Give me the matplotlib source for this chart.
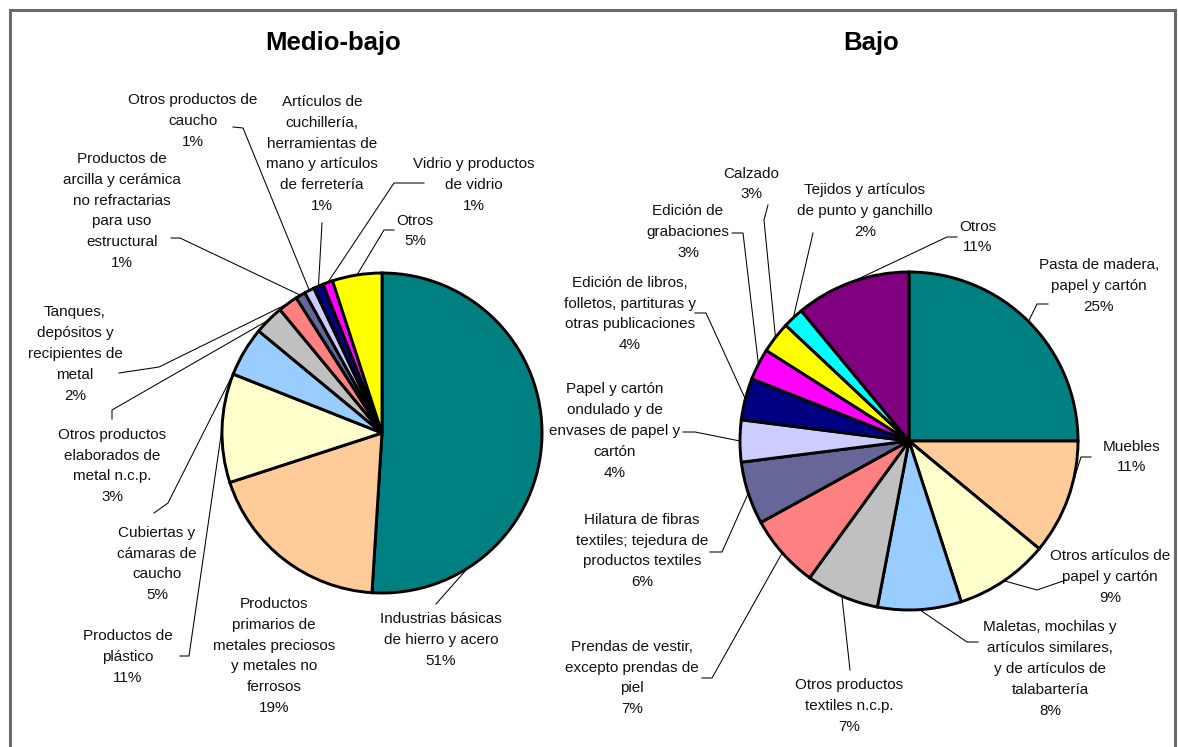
"""Two pie charts: manufacturing branches, Medio-bajo and Bajo groups."""

import math

import matplotlib

matplotlib.use("Agg")
import matplotlib.pyplot as plt

W, H = 1178, 747

# ---- data -------------------------------------------------------------
medio_bajo_labels = [
    "Industrias básicas\nde hierro y acero",
    "Productos\nprimarios de\nmetales preciosos\ny metales no\nferrosos",
    "Productos de\nplástico",
    "Cubiertas y\ncámaras de\ncaucho",
    "Otros productos\nelaborados de\nmetal n.c.p.",
    "Tanques,\ndepósitos y\nrecipientes de\nmetal",
    "Productos de\narcilla y cerámica\nno refractarias\npara uso\nestructural",
    "Otros productos de\ncaucho",
    "Artículos de\ncuchillería,\nherramientas de\nmano y artículos\nde ferretería",
    "Vidrio y productos\nde vidrio",
    "Otros",
]
medio_bajo_values = [51, 19, 11, 5, 3, 2, 1, 1, 1, 1, 5]

bajo_labels = [
    "Pasta de madera,\npapel y cartón",
    "Muebles",
    "Otros artículos de\npapel y cartón",
    "Maletas, mochilas y\nartículos similares,\ny de artículos de\ntalabartería",
    "Otros productos\ntextiles n.c.p.",
    "Prendas de vestir,\nexcepto prendas de\npiel",
    "Hilatura de fibras\ntextiles; tejedura de\nproductos textiles",
    "Papel y cartón\nondulado y de\nenvases de papel y\ncartón",
    "Edición de libros,\nfolletos, partituras y\notras publicaciones",
    "Edición de\ngrabaciones",
    "Calzado",
    "Tejidos y artículos\nde punto y ganchillo",
    "Otros",
]
bajo_values = [25, 11, 9, 8, 7, 7, 6, 4, 4, 3, 3, 2, 11]

# ---- styles / layout ----------------------------------------------------
medio_bajo_colors = [
    "#008080", "#FFCC99", "#FFFFCC", "#99CCFF", "#C0C0C0", "#FF8080",
    "#666699", "#CCCCFF", "#000080", "#FF00FF", "#FFFF00",
]
bajo_colors = [
    "#008080", "#FFCC99", "#FFFFCC", "#99CCFF", "#C0C0C0", "#FF8080",
    "#666699", "#CCCCFF", "#000080", "#FF00FF", "#FFFF00", "#00FFFF",
    "#800080",
]

# label centre (px), leader points from the label side (px), anchor angle override
medio_bajo_layout = [
    ((441, 640), [(436, 604)], -57.6),
    ((274, 656), None, None),
    ((128, 657), [(180, 656), (189, 656)], None),
    ((157, 564), [(154, 513), (168, 503)], None),
    ((112, 466), [(112, 419), (112, 410)], None),
    ((75, 354), [(119, 373), (159, 367)], None),
    ((122, 211), [(171, 238), (180, 238)], None),
    ((193, 121), [(233, 127), (243, 128)], None),
    ((322, 154), [(322, 223)], None),
    ((474, 185), [(424, 183), (394, 183)], None),
    ((415, 231), [(394, 230), (384, 230)], None),
]
bajo_layout = [
    ((1099, 286), [(1048, 304), (1037, 304)], None),
    ((1132, 457), [(1091, 457), (1081, 457)], None),
    ((1110, 577), [(1066, 580), (1037, 590)], None),
    ((1050, 669), [(978, 642), (967, 642)], None),
    ((849, 706), [(850, 670)], None),
    ((632, 678), [(702, 678), (712, 678)], None),
    ((642, 551), [(710, 552), (722, 552)], None),
    ((615, 431), [(683, 432), (695, 432)], None),
    ((630, 314), [(695, 313), (706, 313)], None),
    ((688, 232), [(732, 233), (743, 233)], None),
    ((751, 184), [(768, 205), (764, 220)], None),
    ((865, 211), [(813, 233)], None),
    ((978, 237), [(957, 237), (947, 237)], None),
]

FONT = ["Liberation Sans", "DejaVu Sans"]


def draw_pie(ax, title, title_xy, labels, values, colors, layout, center, radius):
    cx, cy = center[0], H - center[1]
    wedges, _ = ax.pie(
        values,
        colors=colors,
        startangle=90,
        counterclock=False,
        center=(cx, cy),
        radius=radius,
        wedgeprops=dict(edgecolor="black", linewidth=2.1),
    )
    ax.text(title_xy[0], H - title_xy[1], title, ha="center", va="center",
            fontsize=18.5, fontweight="bold", family=FONT)

    for wedge, name, val, (txy, path, ang) in zip(wedges, labels, values, layout):
        ax.text(txy[0], H - txy[1], f"{name}\n{val}%", ha="center", va="center",
                fontsize=11, linespacing=1.62, family=FONT, color="#111111")
        if not path:
            continue
        if ang is None:
            ang = (wedge.theta1 + wedge.theta2) / 2.0
        ax_pt = (cx + radius * math.cos(math.radians(ang)),
                 cy + radius * math.sin(math.radians(ang)))
        xs = [p[0] for p in path] + [ax_pt[0]]
        ys = [H - p[1] for p in path] + [ax_pt[1]]
        ax.plot(xs, ys, color="black", linewidth=0.75, zorder=0.5)


def main() -> None:
    fig = plt.figure(figsize=(W / 100, H / 100), dpi=100)
    ax = fig.add_axes([0, 0, 1, 1])

    draw_pie(ax, "Medio-bajo", (333, 43), medio_bajo_labels, medio_bajo_values,
             medio_bajo_colors, medio_bajo_layout, (382, 433), 160)
    draw_pie(ax, "Bajo", (871, 43), bajo_labels, bajo_values,
             bajo_colors, bajo_layout, (909, 441), 169)

    # outer frame (no bottom edge visible)
    ax.plot([9.5, 9.5, 1174.5, 1174.5], [0, H - 9.5, H - 9.5, 0],
            color="#6a6a6a", linewidth=2.2, solid_joinstyle="miter")

    ax.set_xlim(0, W)
    ax.set_ylim(0, H)
    ax.set_aspect("equal")
    ax.axis("off")
    fig.savefig("out.png", dpi=100)
    plt.close(fig)


if __name__ == "__main__":
    main()
